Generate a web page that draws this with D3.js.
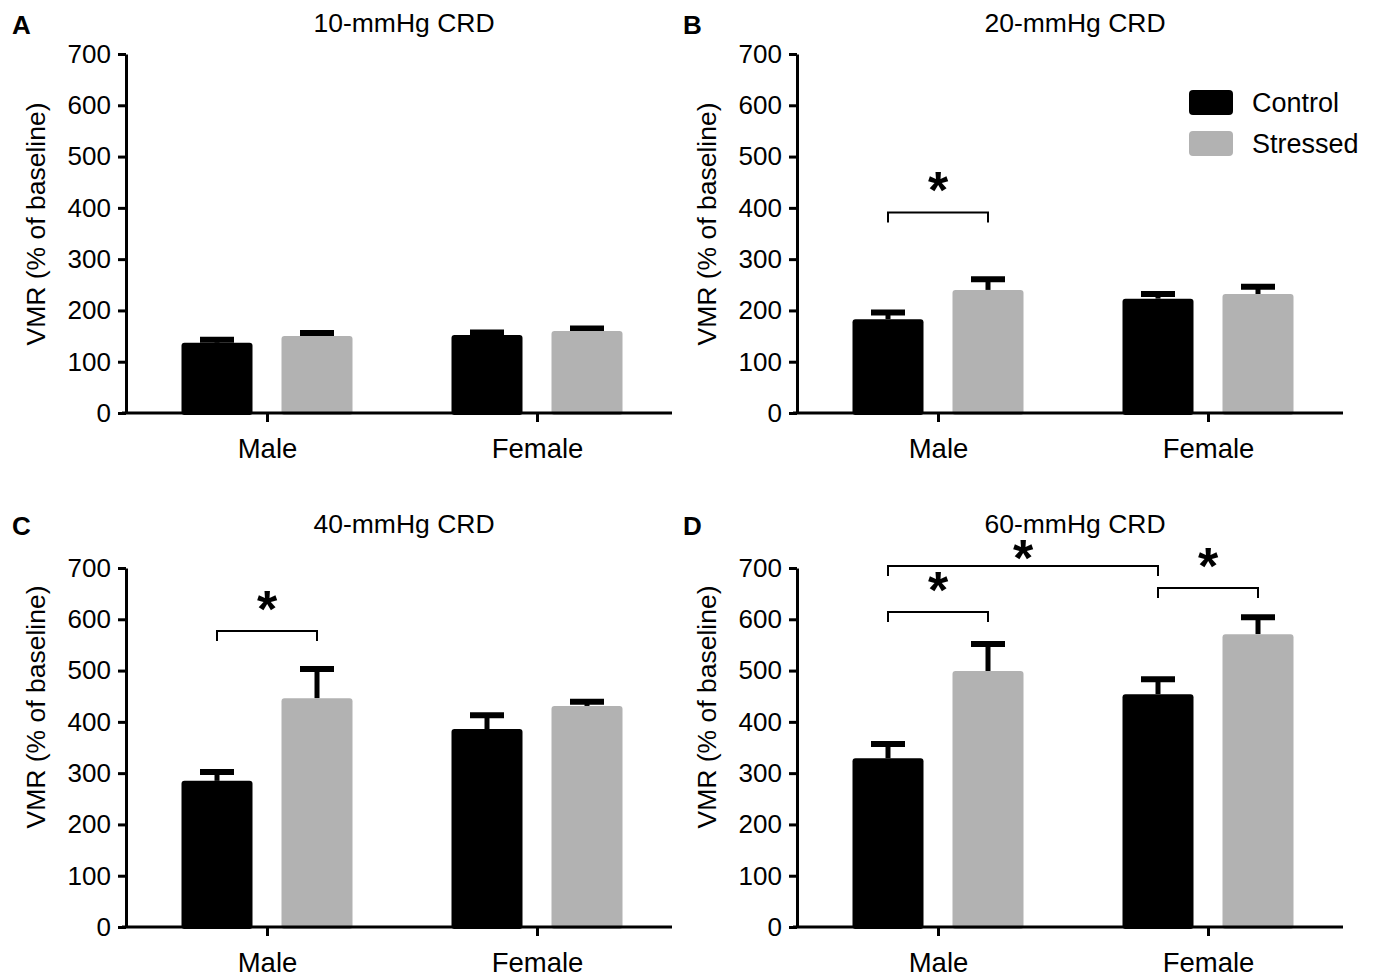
<!DOCTYPE html>
<html>
<head>
<meta charset="utf-8">
<script src="https://cdn.jsdelivr.net/npm/d3@7"></script>
<style>
  body { margin: 0; background: #fff; }
  svg { display: block; font-family: "Liberation Sans", Arial, sans-serif; }
</style>
</head>
<body>
<svg id="chart" width="1373" height="979"></svg>
<script>
const categories = ["Male", "Female"];
const series = ["Control", "Stressed"];
const yTicks = [0, 100, 200, 300, 400, 500, 600, 700];

const panelLetters = ["A", "B", "C", "D"];
const panelTitles = ["10-mmHg CRD", "20-mmHg CRD", "40-mmHg CRD", "60-mmHg CRD"];

// [Male Control, Male Stressed, Female Control, Female Stressed]
const mean10 = [137, 150, 152, 160];
const upper10 = [143, 156, 157, 165];
const mean20 = [183, 240, 223, 232];
const upper20 = [196, 261, 232, 246];
const mean40 = [285, 446, 386, 431];
const upper40 = [302, 503, 413, 439];
const mean60 = [329, 499, 454, 571];
const upper60 = [357, 552, 483, 604];

// significance brackets: from/to = [category, series], y = bracket level
const sig20 = [{ from: ["Male", "Control"], to: ["Male", "Stressed"], y: 391 }];
const sig40 = [{ from: ["Male", "Control"], to: ["Male", "Stressed"], y: 577 }];
const sig60 = [
  { from: ["Male", "Control"], to: ["Male", "Stressed"], y: 614 },
  { from: ["Male", "Control"], to: ["Female", "Control"], y: 704, lift: 13 },
  { from: ["Female", "Control"], to: ["Female", "Stressed"], y: 661 }
];

const colors = { Control: "#000000", Stressed: "#b2b2b2" };

const panels = [
  { mean: mean10, upper: upper10, sig: [],    x0: 126, y0: 54,  titleY: 32,  yLabelY: 224 },
  { mean: mean20, upper: upper20, sig: sig20, x0: 797, y0: 54,  titleY: 32,  yLabelY: 224, legend: true },
  { mean: mean40, upper: upper40, sig: sig40, x0: 126, y0: 568, titleY: 533, yLabelY: 707 },
  { mean: mean60, upper: upper60, sig: sig60, x0: 797, y0: 568, titleY: 533, yLabelY: 707 }
];

const W = 546, H = 359;
const svg = d3.select("#chart");

const x = d3.scalePoint().domain(categories).range([141, 411]);
const xs = d3.scaleBand().domain(series).range([-85.5, 85.5]).paddingInner(0.29);
const y = d3.scaleLinear().domain([0, 700]).range([H, 0]);

panels.forEach((p, pi) => {
  const g = svg.append("g").attr("transform", `translate(${p.x0},${p.y0})`);

  // panel letter and title
  svg.append("text").attr("x", p.x0 - 114).attr("y", p.titleY + 2)
    .attr("font-weight", "bold").attr("font-size", 26).attr("fill", "#000")
    .text(panelLetters[pi]);
  svg.append("text").attr("x", p.x0 + 278).attr("y", p.titleY)
    .attr("text-anchor", "middle").attr("font-size", 26.5).attr("fill", "#000")
    .text(panelTitles[pi]);

  // y label
  svg.append("text")
    .attr("transform", `translate(${p.x0 - 81},${p.yLabelY}) rotate(-90)`)
    .attr("text-anchor", "middle").attr("font-size", 26.5).attr("fill", "#000")
    .text("VMR (% of baseline)");

  const rows = [];
  categories.forEach((c, ci) => series.forEach((s, si) => {
    const k = ci * 2 + si;
    rows.push({ cat: c, ser: s, mean: p.mean[k], upper: p.upper[k] });
  }));
  const cx = d => x(d.cat) + xs(d.ser) + xs.bandwidth() / 2;

  // error bars
  g.selectAll("line.err").data(rows).enter().append("line")
    .attr("x1", cx).attr("x2", cx)
    .attr("y1", d => y(d.mean)).attr("y2", d => y(d.upper))
    .attr("stroke", "#000").attr("stroke-width", 5);
  g.selectAll("line.cap").data(rows).enter().append("line")
    .attr("x1", d => cx(d) - 17).attr("x2", d => cx(d) + 17)
    .attr("y1", d => y(d.upper)).attr("y2", d => y(d.upper))
    .attr("stroke", "#000").attr("stroke-width", 6);

  // bars
  g.selectAll("rect.bar").data(rows).enter().append("rect")
    .attr("x", d => x(d.cat) + xs(d.ser))
    .attr("y", d => y(d.mean))
    .attr("width", xs.bandwidth())
    .attr("height", d => H - y(d.mean) + 2)
    .attr("rx", 3)
    .attr("fill", d => colors[d.ser]);

  // axes
  const ya = g.append("g").call(d3.axisLeft(y).tickValues(yTicks).tickSize(8).tickSizeOuter(0).tickPadding(7));
  ya.select(".domain").attr("stroke-width", 3);
  ya.selectAll(".tick line").attr("stroke-width", 3);
  ya.selectAll(".tick text").attr("font-size", 26).attr("fill", "#000").attr("font-family", null);

  const xa = g.append("g").attr("transform", `translate(0,${H})`)
    .call(d3.axisBottom(x).tickSize(9).tickSizeOuter(0).tickPadding(16));
  xa.select(".domain").remove();
  xa.append("line").attr("x1", -4).attr("x2", W).attr("stroke", "#000").attr("stroke-width", 3);
  xa.selectAll(".tick line").attr("stroke-width", 3);
  xa.selectAll(".tick text").attr("font-size", 27.5).attr("fill", "#000").attr("font-family", null);

  // significance brackets
  p.sig.forEach(b => {
    const xa1 = x(b.from[0]) + xs(b.from[1]) + xs.bandwidth() / 2;
    const xa2 = x(b.to[0]) + xs(b.to[1]) + xs.bandwidth() / 2;
    const by = y(b.y);
    g.append("path")
      .attr("d", `M${xa1},${by + 10}V${by}H${xa2}V${by + 10}`)
      .attr("fill", "none").attr("stroke", "#000").attr("stroke-width", 2);
    const starC = by - (b.lift || 27);
    g.append("text").attr("x", (xa1 + xa2) / 2).attr("y", starC + 23)
      .attr("text-anchor", "middle").attr("font-weight", "bold")
      .attr("font-size", 52).attr("fill", "#000").text("*");
  });

  if (p.legend) {
    const lg = g.append("g").attr("transform", `translate(392,36)`);
    series.forEach((s, i) => {
      lg.append("rect").attr("x", 0).attr("y", i * 41).attr("width", 44).attr("height", 25)
        .attr("rx", 4).attr("fill", colors[s]);
      lg.append("text").attr("x", 63).attr("y", i * 41 + 22)
        .attr("font-size", 27).attr("fill", "#000").text(s);
    });
  }
});
</script>
</body>
</html>
